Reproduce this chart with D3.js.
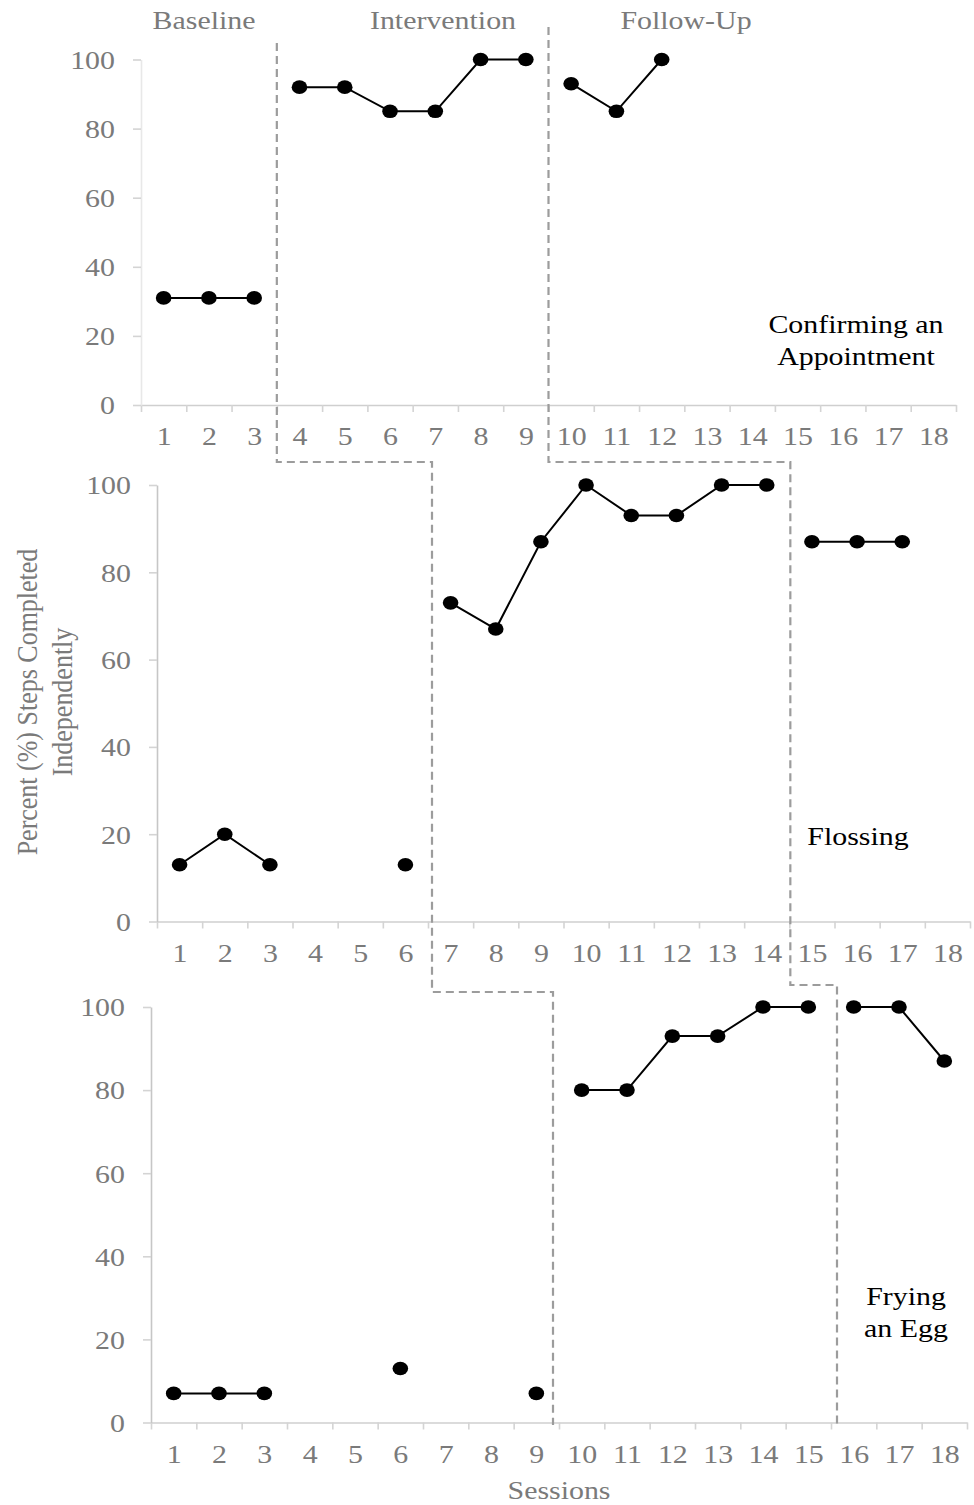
<!DOCTYPE html>
<html lang="en">
<head>
   <meta charset="utf-8">
   <title>Multiple Baseline - Steps Completed Independently</title>
   <script type="text/javascript" src="https://cdn.jsdelivr.net/npm/d3@7"></script>
   <style>
      body {
         margin: 0;
         background: #fff;
      }
      svg text {
         font-family: "Liberation Serif", "Times New Roman", serif;
      }
   </style>
</head>
<body>
   <svg id="chart" width="974" height="1505"></svg>

<script type="text/javascript">

   // sessions on the x axis
   var sessions = [1, 2, 3, 4, 5, 6, 7, 8, 9, 10, 11, 12, 13, 14, 15, 16, 17, 18];
   var yTicks = [0, 20, 40, 60, 80, 100];
   var phaseLabels = ["Baseline", "Intervention", "Follow-Up"];

   // percent of steps completed, null = no session
   var appointment = [31, 31, 31, 92, 92, 85, 85, 100, 100, 93, 85, 100, null, null, null, null, null, null];
   var flossing = [13, 20, 13, null, null, 13, 73, 67, 87, 100, 93, 93, 100, 100, 87, 87, 87, null];
   var egg = [7, 7, 7, null, null, 13, null, null, 7, 80, 80, 93, 93, 100, 100, 100, 100, 87];

   // last session of baseline and of intervention for each skill
   var appointmentPhases = [3, 9];
   var flossingPhases = [6, 14];
   var eggPhases = [9, 15];

   var skillNames = [["Confirming an", "Appointment"], ["Flossing"], ["Frying", "an Egg"]];

   var sx = 1.15; // text in the original is a bit wider than tall

   var svg = d3.select("#chart");

   // panel layout
   var panels = [
      {values: appointment, phases: appointmentPhases, name: skillNames[0],
       left: 141, right: 956, top: 59.5, bottom: 405, yAxisColor: "#e8e8e8", nameX: 856, nameY: 333},
      {values: flossing, phases: flossingPhases, name: skillNames[1],
       left: 157, right: 970, top: 485, bottom: 921.5, yAxisColor: "#c6c6c6", nameX: 858, nameY: 845},
      {values: egg, phases: eggPhases, name: skillNames[2],
       left: 151, right: 967, top: 1007, bottom: 1422.5, yAxisColor: "#c6c6c6", nameX: 906, nameY: 1305}
   ];

   panels.forEach(function(p) {

      p.x = d3.scaleLinear()
              .domain([sessions[0] - 0.5, sessions[sessions.length - 1] + 0.5])
              .range([p.left, p.right]);

      p.y = d3.scaleLinear()
              .domain([0, 100])
              .range([p.bottom, p.top]);

      var g = svg.append("g");

      // x axis: ticks between sessions
      var bounds = [sessions[0] - 0.5].concat(sessions.map(function(s){ return s + 0.5; }));

      g.append("g")
         .attr("transform", "translate(0," + p.bottom + ")")
         .call(d3.axisBottom(p.x).tickValues(bounds).tickFormat("").tickSize(7).tickSizeOuter(0))
         .call(function(a){
            a.select(".domain").attr("stroke", "#cfcfcf").attr("stroke-width", 1.6);
            a.selectAll(".tick line").attr("stroke", "#d4d4d4").attr("stroke-width", 1.6);
         });

      // x labels at session centres
      g.append("g")
         .attr("transform", "translate(0," + p.bottom + ")")
         .call(d3.axisBottom(p.x).tickValues(sessions).tickFormat(d3.format("d")).tickSize(0))
         .call(function(a){
            a.select(".domain").remove();
            a.selectAll(".tick text")
               .attr("y", 0)
               .attr("dy", 0)
               .attr("transform", "translate(0,40) scale(" + sx + ",1)")
               .attr("fill", "#7a7a7a")
               .style("font-size", "26px");
         });

      // y axis
      g.append("g")
         .attr("transform", "translate(" + p.left + ",0)")
         .call(d3.axisLeft(p.y).tickValues(yTicks).tickSize(8).tickSizeOuter(0))
         .call(function(a){
            a.select(".domain").attr("stroke", p.yAxisColor).attr("stroke-width", 1.6);
            a.selectAll(".tick line").attr("stroke", "#d4d4d4").attr("stroke-width", 1.6);
            a.selectAll(".tick text")
               .attr("x", 0)
               .attr("dy", "0.34em")
               .attr("transform", "translate(-26,0) scale(" + sx + ",1)")
               .attr("fill", "#7a7a7a")
               .style("font-size", "26px");
         });

      // data split into phases, only sessions within a phase are joined
      var pts = sessions.map(function(s, i){ return {s: s, v: p.values[i]}; });
      var cuts = [0].concat(p.phases).concat([sessions.length]);
      var line = d3.line()
                   .defined(function(d){ return d.v !== null; })
                   .x(function(d){ return p.x(d.s); })
                   .y(function(d){ return p.y(d.v); });

      for (var k = 0; k < cuts.length - 1; k++) {
         g.append("path")
            .datum(pts.slice(cuts[k], cuts[k + 1]))
            .attr("d", line)
            .attr("fill", "none")
            .attr("stroke", "#000")
            .attr("stroke-width", 2);
      }

      g.selectAll("ellipse")
         .data(pts.filter(function(d){ return d.v !== null; }))
         .enter()
         .append("ellipse")
            .attr("cx", function(d){ return p.x(d.s); })
            .attr("cy", function(d){ return p.y(d.v); })
            .attr("rx", 7.8)
            .attr("ry", 6.8)
            .attr("fill", "#000");

      // skill name
      g.selectAll(".name")
         .data(p.name)
         .enter()
         .append("text")
            .attr("class", "name")
            .attr("transform", function(d, i){ return "translate(" + p.nameX + "," + (p.nameY + i * 32) + ") scale(" + sx + ",1)"; })
            .attr("text-anchor", "middle")
            .style("font-size", "26px")
            .attr("fill", "#000")
            .text(function(d){ return d; });
   });

   // phase change lines running through the three panels
   var p1 = panels[0], p2 = panels[1], p3 = panels[2];
   var a1 = p1.x(appointmentPhases[0] + 0.5), a2 = p2.x(flossingPhases[0] + 0.5) + 4, a3 = p3.x(eggPhases[0] + 0.5) - 6;
   var b1 = p1.x(appointmentPhases[1] + 0.5), b2 = p2.x(flossingPhases[1] + 0.5) + 1, b3 = p3.x(eggPhases[1] + 0.5) + 6;

   var phaseLines = [
      [[a1, 43], [a1, 462], [a2, 462], [a2, 992], [a3, 992], [a3, 1425]],
      [[b1, 27], [b1, 462], [b2, 462], [b2, 985], [b3, 985], [b3, 1425]]
   ];

   svg.selectAll(".phase")
      .data(phaseLines)
      .enter()
      .append("path")
         .attr("class", "phase")
         .attr("d", d3.line())
         .attr("fill", "none")
         .attr("stroke", "#9c9c9c")
         .attr("stroke-width", 2.2)
         .attr("stroke-dasharray", "8,5");

   // phase labels above the top panel
   var phaseX = [204, 443, 686];
   svg.selectAll(".phaseLabel")
      .data(phaseLabels)
      .enter()
      .append("text")
         .attr("class", "phaseLabel")
         .attr("transform", function(d, i){ return "translate(" + phaseX[i] + ",29) scale(" + sx + ",1)"; })
         .attr("text-anchor", "middle")
         .attr("fill", "#7a7a7a")
         .style("font-size", "26px")
         .text(function(d){ return d; });

   // axis titles
   svg.append("text")
      .attr("transform", "translate(559,1499) scale(" + sx + ",1)")
      .attr("text-anchor", "middle")
      .attr("fill", "#7a7a7a")
      .style("font-size", "26px")
      .text("Sessions");

   var yTitle = ["Percent (%) Steps Completed", "Independently"];
   svg.selectAll(".ytitle")
      .data(yTitle)
      .enter()
      .append("text")
         .attr("class", "ytitle")
         .attr("transform", function(d, i){ return "translate(" + (37 + i * 35) + ",702) rotate(-90) scale(1," + sx + ")"; })
         .attr("text-anchor", "middle")
         .attr("fill", "#7a7a7a")
         .style("font-size", "26px")
         .text(function(d){ return d; });

</script>
</body>
</html>
